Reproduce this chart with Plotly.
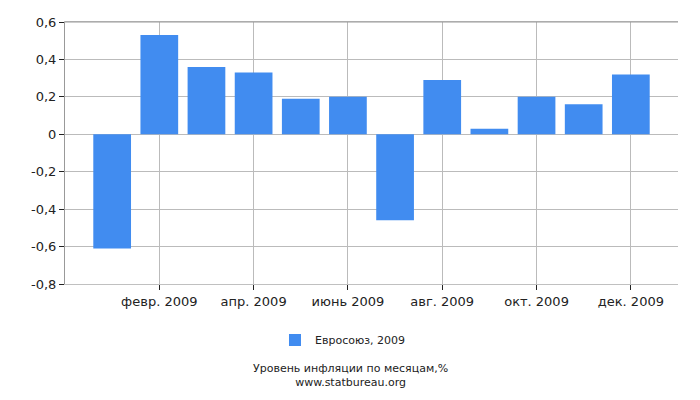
import plotly.graph_objects as go

months = ["янв. 2009", "февр. 2009", "март 2009", "апр. 2009", "май 2009", "июнь 2009",
          "июль 2009", "авг. 2009", "сент. 2009", "окт. 2009", "нояб. 2009", "дек. 2009"]
inflation = [-0.61, 0.53, 0.36, 0.33, 0.19, 0.20, -0.46, 0.29, 0.03, 0.20, 0.16, 0.32]
series_name = "Евросоюз, 2009"
title_lines = ["Уровень инфляции по месяцам,%", "www.statbureau.org"]

y_ticks = [-0.8, -0.6, -0.4, -0.2, 0, 0.2, 0.4, 0.6]
y_labels = ["-0,8", "-0,6", "-0,4", "-0,2", "0", "0,2", "0,4", "0,6"]
x_ticks = [1, 3, 5, 7, 9, 11]

font = "DejaVu Sans, Verdana, sans-serif"

fig = go.Figure()
fig.add_trace(go.Bar(
    x=list(range(len(months))), y=inflation, name=series_name,
    marker=dict(color="#418cf0", line=dict(width=0)),
    width=0.8, showlegend=True,
))

# page body has an 8px margin, so the figure is a bit smaller than the window
fig.update_layout(
    width=692, height=392,
    margin=dict(l=57, r=22, t=14, b=116),
    plot_bgcolor="white", paper_bgcolor="white",
    font=dict(family=font, size=13, color="#222"),
    showlegend=True,
    legend=dict(orientation="h", x=0.4535, xanchor="center", y=-0.214, yanchor="middle",
                font=dict(size=11)),
    xaxis=dict(
        range=[-1, 12], tickvals=x_ticks, ticktext=[months[i] for i in x_ticks],
        showgrid=True, gridcolor="#bbbbbb", gridwidth=1,
        ticks="outside", ticklen=5, tickcolor="#222",
        showline=True, linecolor="#c0c0c0", linewidth=1, mirror=True,
        zeroline=False, automargin=False,
    ),
    yaxis=dict(
        range=[-0.8, 0.6], tickvals=y_ticks, ticktext=y_labels,
        showgrid=True, gridcolor="#bbbbbb", gridwidth=1,
        ticks="outside", ticklen=5, tickcolor="#222",
        showline=True, linecolor="#999999", linewidth=1,
        zeroline=False, automargin=False,
    ),
)

fig.add_annotation(text="<br>".join(title_lines), x=0.465, xref="paper",
                   y=-0.351, yref="paper", yanchor="middle", showarrow=False,
                   align="center", font=dict(size=11, color="#222"))

# darker top border like the original frame
fig.add_shape(type="line", xref="paper", yref="paper", x0=0, x1=1, y0=1, y1=1,
              line=dict(color="#999999", width=1))

fig.write_html("out.html")
